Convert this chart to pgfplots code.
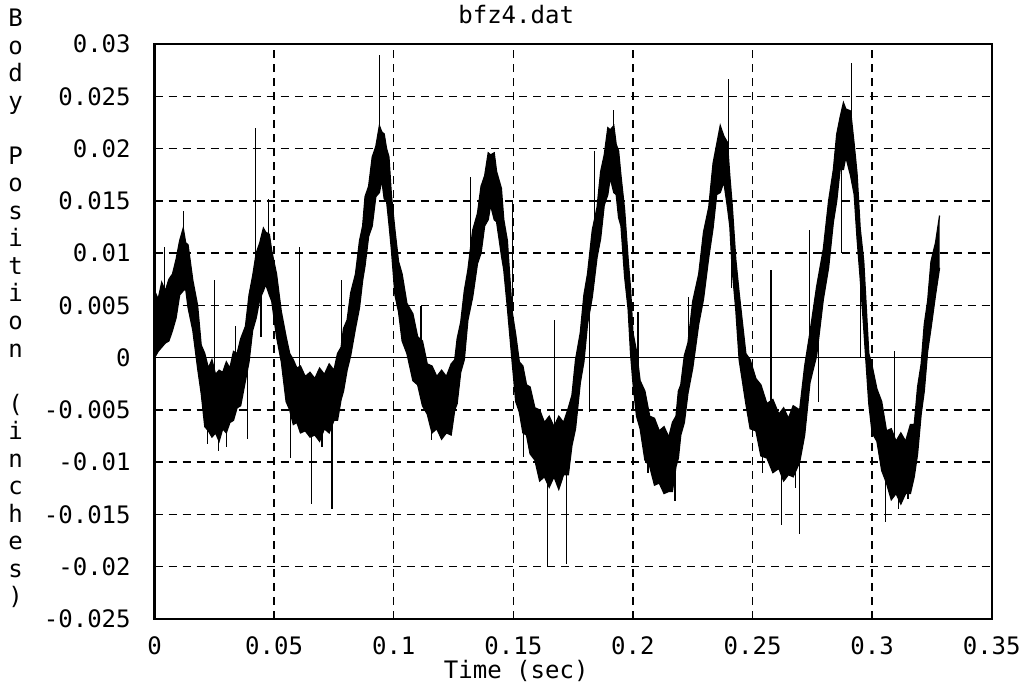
\documentclass[border=0pt]{standalone}
\usepackage{pgfplots}
\pgfplotsset{compat=1.18}
\usepackage{pgfplotstable}
\usepgfplotslibrary{fillbetween}
\usepackage{fontspec}
\setmainfont{DejaVu Sans Mono}

\pgfplotstableread{
x u l
0.0000 0.0064 0.0000
0.0015 0.0056 0.0006
0.0030 0.0072 0.0010
0.0045 0.0064 0.0014
0.0060 0.0075 0.0016
0.0075 0.0080 0.0026
0.0090 0.0094 0.0038
0.0105 0.0112 0.0060
0.0120 0.0124 0.0064
0.0130 0.0110 0.0066
0.0140 0.0108 0.0048
0.0160 0.0074 0.0026
0.0180 0.0050 -0.0010
0.0195 0.0012 -0.0034
0.0210 0.0004 -0.0066
0.0225 -0.0010 -0.0070
0.0240 -0.0002 -0.0076
0.0255 -0.0016 -0.0072
0.0270 -0.0012 -0.0080
0.0285 -0.0014 -0.0068
0.0300 -0.0004 -0.0072
0.0315 -0.0010 -0.0062
0.0330 0.0006 -0.0060
0.0345 0.0004 -0.0048
0.0360 0.0018 -0.0046
0.0380 0.0030 -0.0022
0.0395 0.0060 -0.0004
0.0410 0.0078 0.0026
0.0425 0.0100 0.0038
0.0440 0.0110 0.0056
0.0455 0.0124 0.0064
0.0465 0.0120 0.0070
0.0480 0.0118 0.0060
0.0490 0.0102 0.0054
0.0510 0.0080 0.0020
0.0530 0.0044 -0.0004
0.0550 0.0020 -0.0042
0.0565 0.0004 -0.0050
0.0580 -0.0002 -0.0064
0.0595 -0.0010 -0.0062
0.0610 -0.0008 -0.0072
0.0630 -0.0018 -0.0070
0.0650 -0.0014 -0.0076
0.0670 -0.0020 -0.0074
0.0690 -0.0010 -0.0080
0.0710 -0.0016 -0.0068
0.0730 -0.0006 -0.0072
0.0750 -0.0012 -0.0060
0.0765 0.0004 -0.0060
0.0780 0.0010 -0.0040
0.0790 0.0028 -0.0032
0.0805 0.0036 -0.0012
0.0820 0.0062 0.0002
0.0840 0.0080 0.0028
0.0857 0.0112 0.0048
0.0870 0.0126 0.0074
0.0880 0.0154 0.0088
0.0895 0.0164 0.0116
0.0910 0.0192 0.0126
0.0925 0.0202 0.0154
0.0940 0.0222 0.0158
0.0950 0.0216 0.0170
0.0960 0.0214 0.0152
0.0970 0.0200 0.0150
0.0980 0.0192 0.0128
0.0990 0.0156 0.0104
0.1005 0.0122 0.0060
0.1020 0.0092 0.0044
0.1035 0.0080 0.0016
0.1055 0.0052 0.0004
0.1080 0.0042 -0.0022
0.1100 0.0020 -0.0026
0.1120 0.0016 -0.0046
0.1140 -0.0006 -0.0054
0.1160 -0.0008 -0.0072
0.1180 -0.0018 -0.0068
0.1200 -0.0012 -0.0078
0.1220 -0.0018 -0.0072
0.1240 -0.0006 -0.0074
0.1255 -0.0002 -0.0050
0.1265 0.0018 -0.0044
0.1280 0.0034 -0.0014
0.1295 0.0064 -0.0002
0.1310 0.0084 0.0036
0.1330 0.0122 0.0058
0.1350 0.0138 0.0090
0.1365 0.0164 0.0100
0.1380 0.0174 0.0126
0.1395 0.0196 0.0132
0.1405 0.0194 0.0146
0.1420 0.0196 0.0132
0.1430 0.0178 0.0130
0.1450 0.0162 0.0098
0.1460 0.0132 0.0084
0.1475 0.0112 0.0048
0.1495 0.0044 -0.0004
0.1510 0.0022 -0.0042
0.1525 -0.0004 -0.0052
0.1540 -0.0008 -0.0072
0.1555 -0.0026 -0.0074
0.1570 -0.0028 -0.0092
0.1590 -0.0048 -0.0098
0.1610 -0.0050 -0.0118
0.1630 -0.0062 -0.0114
0.1650 -0.0056 -0.0124
0.1670 -0.0066 -0.0114
0.1690 -0.0056 -0.0126
0.1710 -0.0062 -0.0112
0.1730 -0.0048 -0.0112
0.1745 -0.0036 -0.0084
0.1760 -0.0002 -0.0068
0.1780 0.0024 -0.0024
0.1795 0.0060 -0.0004
0.1810 0.0080 0.0032
0.1830 0.0122 0.0058
0.1850 0.0144 0.0096
0.1865 0.0178 0.0114
0.1880 0.0194 0.0146
0.1895 0.0220 0.0156
0.1905 0.0218 0.0172
0.1920 0.0222 0.0158
0.1930 0.0204 0.0156
0.1940 0.0198 0.0134
0.1950 0.0174 0.0126
0.1965 0.0142 0.0078
0.1980 0.0094 0.0046
0.1990 0.0066 0.0004
0.2000 0.0024 -0.0024
0.2015 0.0006 -0.0056
0.2030 -0.0022 -0.0068
0.2050 -0.0032 -0.0098
0.2070 -0.0056 -0.0104
0.2090 -0.0058 -0.0122
0.2110 -0.0070 -0.0120
0.2130 -0.0066 -0.0130
0.2150 -0.0076 -0.0128
0.2165 -0.0062 -0.0128
0.2180 -0.0056 -0.0104
0.2190 -0.0032 -0.0096
0.2200 -0.0026 -0.0074
0.2215 0.0002 -0.0062
0.2230 0.0014 -0.0034
0.2250 0.0054 -0.0010
0.2275 0.0080 0.0032
0.2295 0.0120 0.0056
0.2317 0.0144 0.0096
0.2335 0.0186 0.0124
0.2350 0.0204 0.0156
0.2365 0.0222 0.0158
0.2380 0.0212 0.0168
0.2395 0.0206 0.0144
0.2405 0.0174 0.0126
0.2415 0.0146 0.0084
0.2430 0.0094 0.0046
0.2444 0.0062 -0.0002
0.2472 0.0004 -0.0044
0.2490 -0.0002 -0.0068
0.2514 -0.0020 -0.0070
0.2535 -0.0026 -0.0094
0.2560 -0.0044 -0.0096
0.2585 -0.0040 -0.0110
0.2610 -0.0054 -0.0106
0.2630 -0.0048 -0.0118
0.2650 -0.0058 -0.0112
0.2670 -0.0046 -0.0114
0.2697 -0.0050 -0.0100
0.2718 -0.0008 -0.0074
0.2740 0.0024 -0.0024
0.2768 0.0068 0.0002
0.2796 0.0104 0.0056
0.2818 0.0150 0.0086
0.2838 0.0180 0.0130
0.2852 0.0214 0.0150
0.2866 0.0230 0.0180
0.2880 0.0244 0.0180
0.2890 0.0238 0.0192
0.2910 0.0236 0.0174
0.2925 0.0204 0.0156
0.2937 0.0176 0.0114
0.2950 0.0124 0.0076
0.2965 0.0092 0.0028
0.2986 0.0004 -0.0044
0.3000 -0.0008 -0.0072
0.3020 -0.0030 -0.0080
0.3040 -0.0042 -0.0108
0.3060 -0.0070 -0.0120
0.3080 -0.0068 -0.0136
0.3100 -0.0080 -0.0130
0.3120 -0.0072 -0.0140
0.3140 -0.0080 -0.0130
0.3160 -0.0064 -0.0130
0.3176 -0.0064 -0.0114
0.3190 -0.0028 -0.0092
0.3205 -0.0006 -0.0054
0.3218 0.0032 -0.0032
0.3232 0.0054 0.0006
0.3246 0.0092 0.0028
0.3265 0.0110 0.0060
0.3282 0.0136 0.0086
}\band

\pgfplotstableread{
x y
0.0043 0.0040
0.0043 0.0106
0.0043 nan
0.0122 0.0100
0.0122 0.0140
0.0122 nan
0.0223 -0.0040
0.0223 -0.0083
0.0223 nan
0.0252 -0.0040
0.0252 0.0074
0.0252 nan
0.0267 -0.0050
0.0267 -0.0089
0.0267 nan
0.0300 -0.0040
0.0300 -0.0085
0.0300 nan
0.0339 -0.0030
0.0339 0.0030
0.0339 nan
0.0389 0.0000
0.0389 -0.0078
0.0389 nan
0.0421 0.0060
0.0421 0.0220
0.0421 nan
0.0445 0.0070
0.0445 0.0020
0.0445 nan
0.0476 0.0090
0.0476 0.0152
0.0476 nan
0.0569 -0.0020
0.0569 -0.0096
0.0569 nan
0.0605 -0.0040
0.0605 0.0106
0.0605 nan
0.0656 -0.0050
0.0656 -0.0140
0.0656 nan
0.0700 -0.0060
0.0700 -0.0085
0.0700 nan
0.0742 -0.0050
0.0742 -0.0145
0.0742 nan
0.0783 -0.0020
0.0783 0.0074
0.0783 nan
0.0939 0.0190
0.0939 0.0290
0.0939 nan
0.1114 -0.0010
0.1114 0.0049
0.1114 nan
0.1157 -0.0040
0.1157 -0.0079
0.1157 nan
0.1200 -0.0050
0.1200 -0.0075
0.1200 nan
0.1321 0.0070
0.1321 0.0173
0.1321 nan
0.1497 0.0020
0.1497 0.0150
0.1497 nan
0.1543 -0.0040
0.1543 -0.0095
0.1543 nan
0.1643 -0.0090
0.1643 -0.0200
0.1643 nan
0.1671 -0.0090
0.1671 0.0036
0.1671 nan
0.1721 -0.0080
0.1721 -0.0197
0.1721 nan
0.1817 0.0050
0.1817 -0.0052
0.1817 nan
0.1838 0.0120
0.1838 0.0198
0.1838 nan
0.1920 0.0190
0.1920 0.0237
0.1920 nan
0.2021 -0.0020
0.2021 0.0044
0.2021 nan
0.2063 -0.0080
0.2063 -0.0110
0.2063 nan
0.2176 -0.0090
0.2176 -0.0137
0.2176 nan
0.2232 -0.0010
0.2232 0.0058
0.2232 nan
0.2399 0.0170
0.2399 0.0267
0.2399 nan
0.2413 0.0120
0.2413 0.0067
0.2413 nan
0.2542 -0.0050
0.2542 -0.0110
0.2542 nan
0.2577 -0.0070
0.2577 0.0084
0.2577 nan
0.2620 -0.0080
0.2620 -0.0160
0.2620 nan
0.2680 -0.0080
0.2680 -0.0125
0.2680 nan
0.2697 -0.0070
0.2697 -0.0169
0.2697 nan
0.2739 0.0000
0.2739 0.0122
0.2739 nan
0.2775 0.0040
0.2775 -0.0042
0.2775 nan
0.2873 0.0210
0.2873 0.0100
0.2873 nan
0.2915 0.0200
0.2915 0.0282
0.2915 nan
0.2951 0.0100
0.2951 0.0000
0.2951 nan
0.3056 -0.0090
0.3056 -0.0157
0.3056 nan
0.3092 -0.0100
0.3092 0.0006
0.3092 nan
0.3110 -0.0110
0.3110 -0.0145
0.3110 nan
0.3150 -0.0110
0.3150 -0.0135
0.3150 nan
}\spikes

\begin{document}
\begin{tikzpicture}
\begin{axis}[
  scale only axis,
  width=334.4pt, height=229.6pt,
  xmin=0, xmax=0.35, ymin=-0.025, ymax=0.03,
  xtick={0,0.05,0.1,0.15,0.2,0.25,0.3,0.35},
  xticklabels={0,0.05,0.1,0.15,0.2,0.25,0.3,0.35},
  ytick={-0.025,-0.02,-0.015,-0.01,-0.005,0,0.005,0.01,0.015,0.02,0.025,0.03},
  yticklabels={-0.025,-0.02,-0.015,-0.01,-0.005,0,0.005,0.01,0.015,0.02,0.025,0.03},
  minor xtick={}, minor ytick={}, minor tick num=0,
  scaled ticks=false,
  major tick length=0pt,
  tick style={draw=none},
  xmajorgrids=true, ymajorgrids=true,
  xminorgrids=false, yminorgrids=false,
  major grid style={black, line width=0.55pt, dash pattern=on 3.2pt off 2.4pt},
  axis line style={line width=0.9pt},
  ticklabel style={font=\fontsize{9.6}{11}\selectfont},
  xticklabel style={anchor=center, yshift=-10.6pt},
  yticklabel style={anchor=east, xshift=-6pt},
  unbounded coords=jump,
  title={bfz4.dat},
  title style={at={(axis description cs:0.432,1)}, anchor=south, font=\fontsize{9.6}{11}\selectfont, inner sep=2pt},
  xlabel={Time (sec)},
  xlabel style={at={(axis description cs:0.432,0)}, anchor=center, yshift=-20.6pt, font=\fontsize{9.6}{11}\selectfont},
  every axis y label/.style={at={(axis description cs:-0.166,0.54)}, anchor=center, align=center, font=\fontsize{9.6}{11}\selectfont},
  ylabel={B\\o\\d\\y\\~\\P\\o\\s\\i\\t\\i\\o\\n\\~\\(\\i\\n\\c\\h\\e\\s\\)},
]
\addplot[black, line width=0.4pt] coordinates {(0,0) (0.35,0)};
\addplot[name path=U, draw=black, line width=0.5pt] table[x=x, y=u] {\band};
\addplot[name path=L, draw=black, line width=0.5pt] table[x=x, y=l] {\band};
\addplot[black] fill between[of=U and L];
\addplot[black, line width=0.45pt] table[x=x, y=y] {\spikes};
\end{axis}
\end{tikzpicture}
\end{document}
